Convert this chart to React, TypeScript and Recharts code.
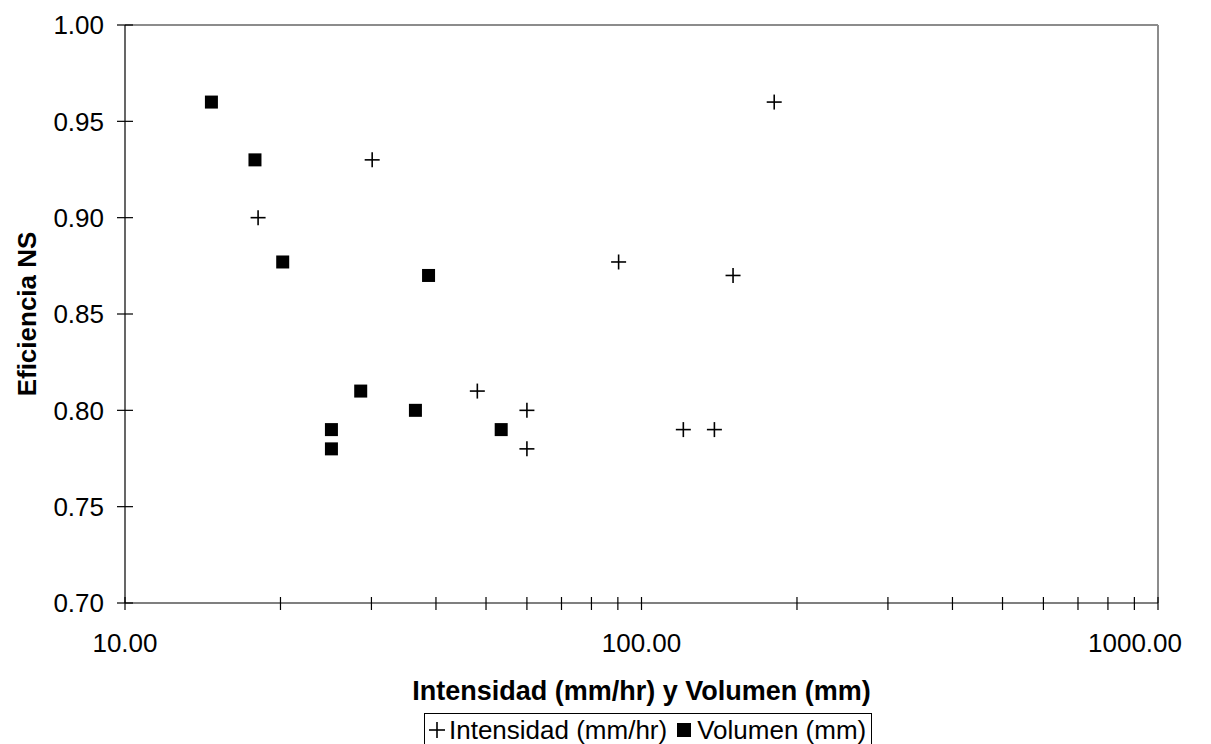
import React from 'react';
import {
  ScatterChart,
  Scatter,
  XAxis,
  YAxis,
  ReferenceLine,
  Legend
} from 'recharts';

// Intensidad (mm/hr) vs eficiencia NS
const intensidadX = [18.1, 30.1, 48.1, 60, 60, 90.3, 120.5, 138.4, 150.4, 180.7];
const intensidadY = [0.9, 0.93, 0.81, 0.8, 0.78, 0.877, 0.79, 0.79, 0.87, 0.96];

// Volumen (mm) vs eficiencia NS
const volumenX = [14.7, 17.85, 20.2, 25.1, 25.1, 28.6, 36.5, 38.7, 53.5];
const volumenY = [0.96, 0.93, 0.877, 0.79, 0.78, 0.81, 0.8, 0.87, 0.79];

const xTicks = [10, 20, 30, 40, 50, 60, 70, 80, 90, 100, 200, 300, 400, 500, 600, 700, 800, 900, 1000];
const xLabeled = [10, 100, 1000];
const yTicks = [0.7, 0.75, 0.8, 0.85, 0.9, 0.95, 1.0];

const intensidadData = intensidadX.map((x, i) => ({ x, y: intensidadY[i] }));
const volumenData = volumenX.map((x, i) => ({ x, y: volumenY[i] }));

const FONT = '"Liberation Sans", Arial, sans-serif';

const PlusShape = (props: any) => {
  const { cx, cy } = props;
  return (
    <g>
      <line x1={cx - 7.5} y1={cy} x2={cx + 7.5} y2={cy} stroke="#000" strokeWidth={1.6} />
      <line x1={cx} y1={cy - 7.5} x2={cx} y2={cy + 7.5} stroke="#000" strokeWidth={1.6} />
    </g>
  );
};

const SquareShape = (props: any) => {
  const { cx, cy } = props;
  return <rect x={cx - 6.5} y={cy - 6.5} width={13} height={13} fill="#000" />;
};

const X_TICK_SIZE = 7;
const X_TICK_MARGIN = 24;

const XTick = (props: any) => {
  const { x, y, payload } = props;
  const axisY = y - X_TICK_SIZE - X_TICK_MARGIN;
  const v = payload.value;
  const last = v === xTicks[xTicks.length - 1];
  return (
    <g>
      <line x1={x} y1={axisY - 6} x2={x} y2={axisY + 7} stroke="#000" strokeWidth={1.2} />
      {xLabeled.includes(v) && (
        <text
          x={last ? x + 24 : x}
          y={y}
          dy="0.71em"
          textAnchor={last ? 'end' : 'middle'}
          fontSize={26}
          fontFamily={FONT}
          fill="#000"
        >
          {v.toFixed(2)}
        </text>
      )}
    </g>
  );
};

const Y_TICK_SIZE = 8;
const Y_TICK_MARGIN = 13;

const YTick = (props: any) => {
  const { x, y, payload } = props;
  const axisX = x + Y_TICK_SIZE + Y_TICK_MARGIN;
  return (
    <g>
      <line x1={axisX - 8} y1={y} x2={axisX + 8} y2={y} stroke="#000" strokeWidth={1.2} />
      <text x={x} y={y} dy="0.355em" textAnchor="end" fontSize={26} fontFamily={FONT} fill="#000">
        {payload.value.toFixed(2)}
      </text>
    </g>
  );
};

const LegendBox = () => (
  <div
    style={{
      border: '1px solid #000',
      fontFamily: FONT,
      fontSize: 26,
      display: 'flex',
      alignItems: 'center',
      padding: '2px 5px 2px 3px',
      whiteSpace: 'nowrap',
      lineHeight: '28px',
      background: '#fff'
    }}
  >
    <svg width={18} height={18} style={{ marginRight: 3 }}>
      <line x1={1} y1={9} x2={17} y2={9} stroke="#000" strokeWidth={1.6} />
      <line x1={9} y1={1} x2={9} y2={17} stroke="#000" strokeWidth={1.6} />
    </svg>
    <span>Intensidad (mm/hr)</span>
    <svg width={16} height={16} style={{ marginLeft: 9, marginRight: 5 }}>
      <rect x={1} y={1} width={14} height={14} fill="#000" />
    </svg>
    <span>Volumen (mm)</span>
  </div>
);

const App = () => {
  return (
    <div style={{ position: 'absolute', left: 0, top: 0, background: '#fff' }}>
      <ScatterChart width={1211} height={744} margin={{ top: 25, right: 53, left: 0, bottom: 0 }}>
        <XAxis
          dataKey="x"
          type="number"
          scale="log"
          domain={[10, 1000]}
          ticks={xTicks}
          interval={0}
          allowDataOverflow
          height={141}
          axisLine={{ stroke: '#000', strokeWidth: 1.2 }}
          tickLine={false}
          tickSize={X_TICK_SIZE}
          tickMargin={X_TICK_MARGIN}
          tick={<XTick />}
          label={(p: any) => {
            const vb = p.viewBox;
            return (
              <text
                x={vb.x + vb.width / 2}
                y={vb.y + 97}
                textAnchor="middle"
                fontSize={27}
                fontWeight="bold"
                fontFamily={FONT}
                fill="#000"
              >
                Intensidad (mm/hr) y Volumen (mm)
              </text>
            );
          }}
        />
        <YAxis
          dataKey="y"
          type="number"
          domain={[0.7, 1.0]}
          ticks={yTicks}
          interval={0}
          width={125}
          axisLine={{ stroke: '#000', strokeWidth: 1.2 }}
          tickLine={false}
          tickSize={Y_TICK_SIZE}
          tickMargin={Y_TICK_MARGIN}
          tick={<YTick />}
          label={(p: any) => {
            const vb = p.viewBox;
            const cx = vb.x + 27;
            const cy = vb.y + vb.height / 2;
            return (
              <text
                x={cx}
                y={cy}
                dy="0.355em"
                transform={`rotate(-90, ${cx}, ${cy})`}
                textAnchor="middle"
                fontSize={26}
                fontWeight="bold"
                fontFamily={FONT}
                fill="#000"
              >
                Eficiencia NS
              </text>
            );
          }}
        />
        <ReferenceLine y={1.0} stroke="#8c8c8c" strokeWidth={2} ifOverflow="visible" />
        <ReferenceLine x={1000} stroke="#8c8c8c" strokeWidth={2} ifOverflow="visible" />
        <Scatter
          name="Intensidad (mm/hr)"
          data={intensidadData}
          shape={<PlusShape />}
          isAnimationActive={false}
        />
        <Scatter
          name="Volumen (mm)"
          data={volumenData}
          shape={<SquareShape />}
          isAnimationActive={false}
        />
        <Legend
          layout="horizontal"
          align="center"
          verticalAlign="middle"
          content={<LegendBox />}
          wrapperStyle={{ position: 'absolute', top: 713, left: 424, width: 'auto' }}
        />
      </ScatterChart>
    </div>
  );
};

export default App;
